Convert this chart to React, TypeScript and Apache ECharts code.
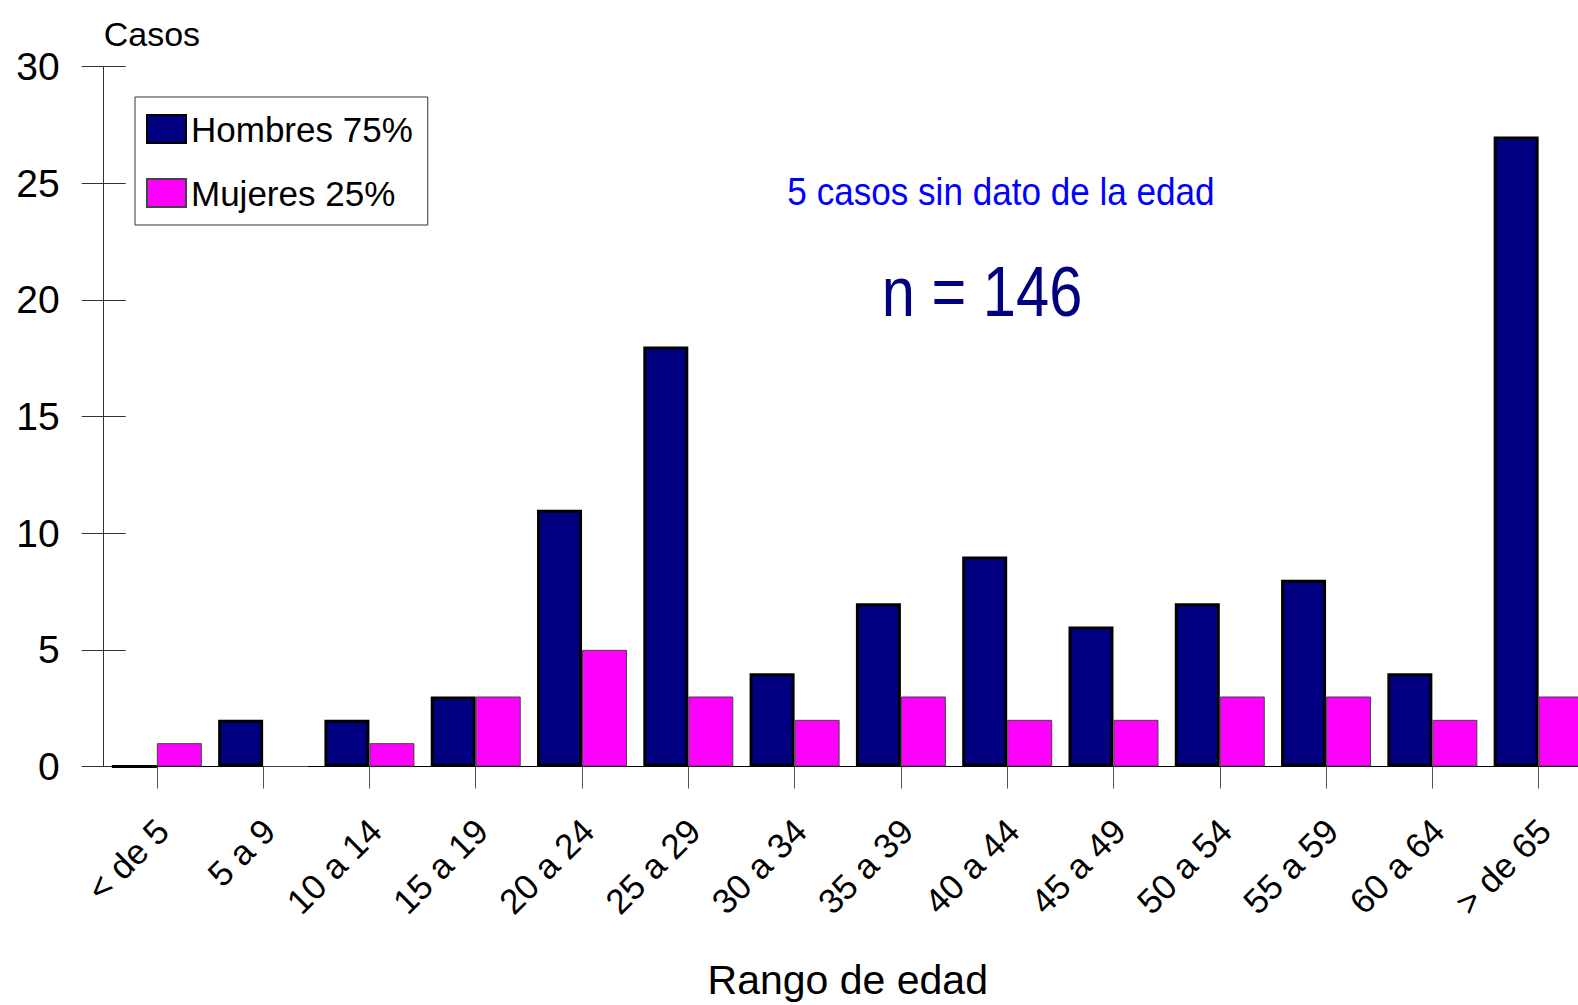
import React, { useEffect, useRef } from "react";
import * as echarts from "echarts";

const categories = ["< de 5", "5 a 9", "10 a 14", "15 a 19", "20 a 24", "25 a 29", "30 a 34", "35 a 39", "40 a 44", "45 a 49", "50 a 54", "55 a 59", "60 a 64", "> de 65"];
const hombres = [0, 2, 2, 3, 11, 18, 4, 7, 9, 6, 7, 8, 4, 27];
const mujeres = [1, 0, 1, 3, 5, 3, 2, 3, 2, 2, 3, 3, 2, 3];
const seriesNames = ["Hombres 75%", "Mujeres 25%"];
const yTicks = { min: 0, max: 30, interval: 5 };
const noteText = "5 casos sin dato de la edad";
const totalText = "n = 146";

const SANS = "'Liberation Sans', Arial, sans-serif";

export default function App() {
  const ref = useRef<HTMLDivElement>(null);
  useEffect(() => {
    if (!ref.current) return;
    const chart = echarts.init(ref.current, undefined, { renderer: "svg" });
    chart.setOption({
      animation: false,
      backgroundColor: "#ffffff",
      grid: { left: 103.7, top: 66.6, bottom: 238, right: 8.2, containLabel: false },
      legend: {
        orient: "vertical",
        left: 135,
        top: 97,
        padding: [11, 15, 11, 11],
        itemWidth: 39,
        itemHeight: 28,
        itemGap: 22,
        icon: "rect",
        borderColor: "#333",
        borderWidth: 1,
        backgroundColor: "#fff",
        textStyle: { fontSize: 35, lineHeight: 42, fontFamily: SANS, color: "#000" },
        data: seriesNames,
      },
      xAxis: {
        type: "category",
        data: categories,
        name: "Rango de edad",
        nameLocation: "middle",
        nameGap: 213,
        nameTextStyle: { fontSize: 41, fontFamily: SANS, color: "#000", verticalAlign: "middle" },
        axisLine: { show: true, lineStyle: { color: "#000", width: 1 } },
        axisTick: { show: true, alignWithLabel: true, length: 22, lineStyle: { color: "#555", width: 1 } },
        axisLabel: {
          interval: 0,
          rotate: 45,
          margin: 64,
          padding: [0, -8, 0, 0],
          fontSize: 35,
          fontFamily: SANS,
          color: "#000",
        },
        splitLine: { show: false },
      },
      yAxis: [
        {
          type: "value",
          min: yTicks.min,
          max: yTicks.max,
          interval: yTicks.interval,
          name: "Casos",
          nameLocation: "end",
          nameGap: 33,
          nameTextStyle: { fontSize: 34, fontFamily: SANS, color: "#000", align: "left", verticalAlign: "middle" },
          axisLine: { show: true, lineStyle: { color: "#333", width: 1 } },
          axisTick: { show: true, inside: true, length: 22, lineStyle: { color: "#333", width: 1 } },
          axisLabel: { margin: 44, fontSize: 39, fontFamily: SANS, color: "#000" },
          splitLine: { show: false },
        },
        {
          type: "value",
          position: "left",
          min: yTicks.min,
          max: yTicks.max,
          interval: yTicks.interval,
          axisLine: { show: false },
          axisTick: { show: true, inside: false, length: 22, lineStyle: { color: "#333", width: 1 } },
          axisLabel: { show: false },
          splitLine: { show: false },
        },
      ],
      series: [
        {
          name: seriesNames[0],
          type: "bar",
          data: hombres,
          barWidth: 45,
          barGap: "0%",
          itemStyle: { color: "#000080", borderColor: "#000", borderWidth: 3 },
        },
        {
          name: seriesNames[1],
          type: "bar",
          data: mujeres,
          barWidth: 45,
          barGap: "0%",
          itemStyle: { color: "#FF00FF", borderColor: "#444", borderWidth: 1 },
        },
      ],
      graphic: [
        {
          type: "text",
          x: 1001,
          y: 191,
          scaleX: 0.9,
          style: {
            text: noteText,
            fill: "#0000FF",
            fontSize: 39,
            fontFamily: SANS,
            align: "center",
            verticalAlign: "middle",
          },
        },
        {
          type: "text",
          x: 982,
          y: 292,
          scaleX: 0.84,
          style: {
            text: totalText,
            fill: "#000080",
            fontSize: 71,
            fontFamily: SANS,
            align: "center",
            verticalAlign: "middle",
          },
        },
      ],
    });
    return () => chart.dispose();
  }, []);
  return (
    <div style={{ position: "fixed", left: 0, top: 0, width: 1578, height: 1005, overflow: "hidden", background: "#fff" }}>
      <div ref={ref} style={{ width: 1600, height: 1005 }} />
    </div>
  );
}
